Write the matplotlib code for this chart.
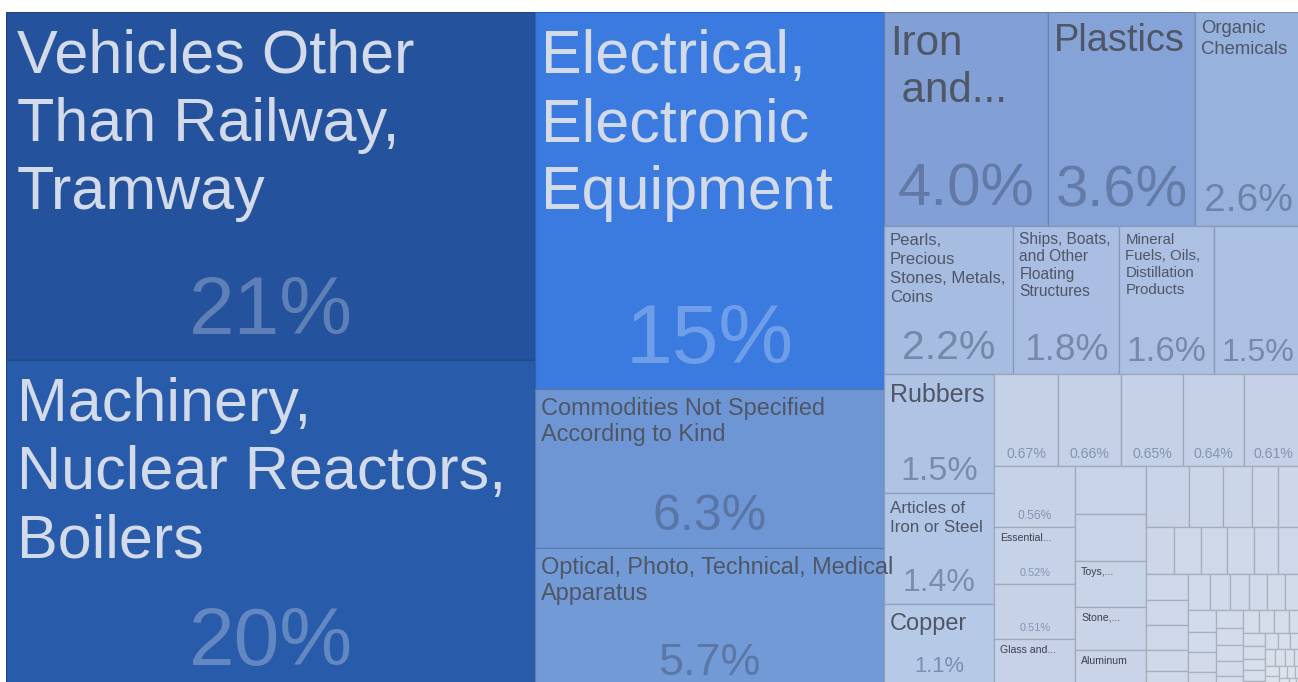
import matplotlib
matplotlib.use("Agg")
import matplotlib.pyplot as plt
from matplotlib.patches import Rectangle
import numpy as np
from matplotlib.colors import to_rgb

# share of total exports in %, sorted largest first
shares = [21, 20, 15, 6.3, 5.7,
          4.0, 3.6, 2.6,
          2.2, 1.8, 1.6, 1.5,
          1.5, 1.4, 1.1,
          0.67, 0.66, 0.65, 0.64, 0.61,
          0.56, 0.52, 0.51, 0.48,
          0.38, 0.38, 0.37, 0.35, 0.33,
          0.30, 0.23, 0.20, 0.18,
          0.165, 0.15, 0.145, 0.14, 0.14,
          0.13, 0.128, 0.125, 0.122, 0.12,
          0.10, 0.098, 0.09, 0.085, 0.08,
          0.075, 0.073, 0.071, 0.069, 0.065, 0.062,
          0.06, 0.055, 0.052, 0.05, 0.048,
          0.045, 0.042, 0.04, 0.038, 0.035,
          0.033, 0.031, 0.029, 0.027, 0.025, 0.024, 0.023, 0.021, 0.021,
          0.02, 0.018, 0.016, 0.015, 0.013, 0.012, 0.011, 0.01,
          0.009, 0.008, 0.007, 0.006, 0.005, 0.004, 0.003, 0.002]
shares = sorted(shares, reverse=True)

names = ["Vehicles Other\nThan Railway,\nTramway",
         "Machinery,\nNuclear Reactors,\nBoilers",
         "Electrical,\nElectronic\nEquipment",
         "Commodities Not Specified\nAccording to Kind",
         "Optical, Photo, Technical, Medical\nApparatus",
         "Iron\n and...",
         "Plastics",
         "Organic\nChemicals",
         "Pearls,\nPrecious\nStones, Metals,\nCoins",
         "Ships, Boats,\nand Other\nFloating\nStructures",
         "Mineral\nFuels, Oils,\nDistillation\nProducts",
         "",
         "Rubbers",
         "Articles of\nIron or Steel",
         "Copper",
         "", "", "", "", "",
         "", "Essential...", "", "Glass and...",
         "", "", "Toys,...", "Stone,...", "Aluminum"]
names += [""] * (len(shares) - len(names))

# label styling, in pixels
name_px = {0: 61, 1: 61, 2: 61, 3: 23.5, 4: 23.5, 5: 42, 6: 38, 7: 18.5,
           8: 16.8, 9: 15.5, 10: 15, 12: 25, 13: 17, 14: 23.5,
           21: 10.5, 23: 10.5, 26: 10.5, 27: 10.5, 28: 10.5}
name_pad = {0: 11, 1: 11}
pct_px = {0: 82, 1: 82, 2: 84, 3: 50, 4: 45, 5: 60, 6: 58, 7: 39, 8: 41,
          9: 37, 10: 35, 11: 32, 12: 34, 13: 32, 14: 22,
          15: 14, 16: 14, 17: 14, 18: 14, 19: 14,
          20: 12, 21: 11, 22: 11}
pct_lift = {14: 8}

top_colors = ["#24529c", "#295bab", "#3b7be0", "#6f96d4", "#729ad6",
              "#829fd6", "#86a3d8", "#98b2de",
              "#a7bce1", "#a9bee2", "#abc0e3", "#acc1e3",
              "#afc3e4", "#b2c6e5", "#b6c9e6"]


def box_color(i, v):
    if i < len(top_colors):
        return to_rgb(top_colors[i])
    c0 = np.array(to_rgb("#c5d1e7"))
    c1 = np.array(to_rgb("#e6eaf0"))
    t = (np.log(0.67) - np.log(v)) / (np.log(0.67) - np.log(0.002))
    t = min(max(t, 0), 1)
    return tuple(c0 + (c1 - c0) * t)


def squarify(values, x0, y0, x1, y1, ratio=(1 + 5 ** 0.5) / 2):
    # same rules as d3.treemapSquarify
    rects = []
    total = float(sum(values))
    i0 = 0
    n = len(values)
    while i0 < n:
        dx, dy = x1 - x0, y1 - y0
        s = values[i0]
        i1 = i0 + 1
        vmin = vmax = s
        alpha = max(dy / dx, dx / dy) / (total * ratio)
        beta = s * s * alpha
        best = max(vmax / beta, beta / vmin)
        while i1 < n:
            v = values[i1]
            s2 = s + v
            beta = s2 * s2 * alpha
            r = max(max(vmax, v) / beta, beta / min(vmin, v))
            if r > best:
                break
            s = s2
            vmin = min(vmin, v)
            vmax = max(vmax, v)
            best = r
            i1 += 1
        row = values[i0:i1]
        if dx < dy:
            h = dy * s / total
            x = x0
            for v in row:
                w = dx * v / s
                rects.append((x, y0, w, h))
                x += w
            y0 += h
        else:
            w = dx * s / total
            y = y0
            for v in row:
                h = dy * v / s
                rects.append((x0, y, w, h))
                y += h
            x0 += w
        total -= s
        i0 = i1
    return rects


def pct_text(v):
    if v >= 10:
        return "%d%%" % round(v)
    if v >= 1:
        return "%.1f%%" % v
    return "%.2f%%" % v


W, H = 1296, 679      # full treemap in pixels (picture crops it)
VIS_H = 670

fig = plt.figure(figsize=(12.98, 6.82), dpi=100)
ax = fig.add_axes([6 / 1298, 0, W / 1298, VIS_H / 682])
ax.set_xlim(0, W)
ax.set_ylim(VIS_H, 0)
ax.axis("off")

rects = squarify(shares, 0, 0, W, H)
font = "Liberation Sans"

for i, (x, y, w, h) in enumerate(rects):
    fc = box_color(i, shares[i])
    ec = tuple(np.array(fc) * 0.8)
    ax.add_patch(Rectangle((x, y), w, h, facecolor=fc, edgecolor=ec, lw=0.9))
    dark = i < 3
    if names[i]:
        fs = name_px[i]
        col = "#d3dbea" if dark else ("#3c414c" if fs < 12 else "#4f5666")
        for j, line in enumerate(names[i].split("\n")):
            ax.text(x + name_pad.get(i, 6), y + 0.93 * fs + 4 + j * 1.12 * fs, line,
                    fontsize=fs * 0.72, family=font, color=col,
                    ha="left", va="baseline", clip_on=True)
    if i in pct_px:
        fs = pct_px[i]
        if dark:
            col, a = "white", 0.27
        else:
            col, a = "#445577", 0.5
        ax.text(x + w / 2, y + h - 0.25 * fs - 5 - pct_lift.get(i, 0),
                pct_text(shares[i]),
                fontsize=fs * 0.72, family=font, color=col, alpha=a,
                ha="center", va="baseline", clip_on=True)

fig.savefig("out.png", dpi=100, facecolor="white")
